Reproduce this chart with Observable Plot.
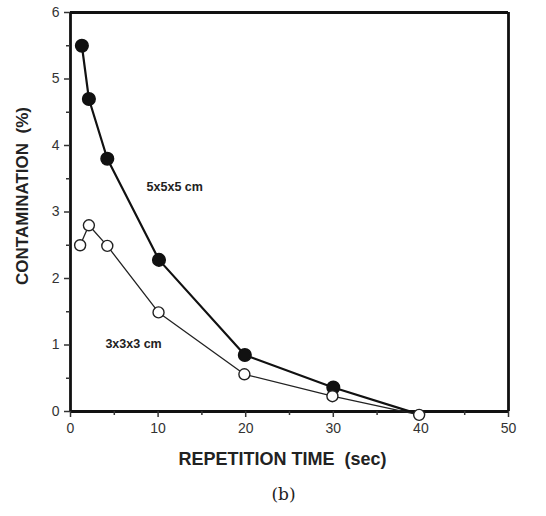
<!DOCTYPE html>
<html>
<head>
<meta charset="utf-8">
<script src="https://cdn.jsdelivr.net/npm/d3@7"></script>
<script src="https://cdn.jsdelivr.net/npm/@observablehq/plot@0.6"></script>
<style>
  body { margin: 0; }
</style>
</head>
<body>
<div id="chart"></div>
<script>
// Data
const time5 = [1.3, 2.1, 4.2, 10.1, 19.9, 30, 40];
const cont5 = [5.5, 4.7, 3.8, 2.28, 0.85, 0.36, -0.05];
const time3 = [1.1, 2.1, 4.2, 10.05, 19.85, 29.9, 39.8];
const cont3 = [2.5, 2.8, 2.49, 1.49, 0.56, 0.23, -0.05];

const xTicks = [0, 10, 20, 30, 40, 50];
const xMinor = [5, 15, 25, 35, 45];
const yTicks = [0, 1, 2, 3, 4, 5, 6];
const yMinor = [0.5, 1.5, 2.5, 3.5, 4.5, 5.5];
const xBounds = [0, 50];
const yBounds = [0, 6];

const labels = [
  {x: 11.9, y: 3.38, text: "5x5x5 cm"},
  {x: 7.2, y: 1.02, text: "3x3x3 cm"}
];
const xTitle = ["REPETITION TIME  (sec)"];
const yTitle = ["CONTAMINATION  (%)"];
const caption = ["(b)"];

const s5 = time5.map((t, i) => ({x: t, y: cont5[i]}));
const s3 = time3.map((t, i) => ({x: t, y: cont3[i]}));

const chart = Plot.plot({
  width: 546,
  height: 516,
  marginLeft: 70,
  marginRight: 38,
  marginTop: 12,
  marginBottom: 105,
  style: {fontFamily: "'Liberation Sans', Arial, sans-serif"},
  x: {domain: xBounds},
  y: {domain: yBounds},
  marks: [
    Plot.ruleX(xBounds, {stroke: "#111", strokeWidth: 2.8}),
    Plot.ruleY(yBounds, {stroke: "#111", strokeWidth: 2.8}),
    Plot.axisY({ticks: yTicks, tickFormat: d3.format("d"), tickSize: 6, tickPadding: 5, fontSize: 14, color: "#333", strokeWidth: 1.5, label: null}),
    Plot.axisY({ticks: yMinor, tickFormat: () => "", tickSize: 4, color: "#333", strokeWidth: 1.5, label: null}),
    Plot.axisX({ticks: xTicks, tickFormat: d3.format("d"), tickSize: 6, tickPadding: 6, fontSize: 14, color: "#333", strokeWidth: 1.5, label: null}),
    Plot.axisX({ticks: xMinor, tickFormat: () => "", tickSize: 4, color: "#333", strokeWidth: 1.5, label: null}),
    Plot.line(s5, {x: "x", y: "y", stroke: "#111", strokeWidth: 2.2}),
    Plot.line(s3, {x: "x", y: "y", stroke: "#222", strokeWidth: 1.3}),
    Plot.dot(s5.slice(0, 6), {x: "x", y: "y", r: 6.3, fill: "#111", stroke: "#111"}),
    Plot.dot(s3, {x: "x", y: "y", r: 5.5, fill: "white", stroke: "#222", strokeWidth: 1.4}),
    Plot.text(labels, {x: "x", y: "y", text: "text", fontSize: 12.5, fontWeight: "bold", fill: "#222"}),
    Plot.text(xTitle, {frameAnchor: "bottom", dy: 53, dx: -7, fontSize: 18, fontWeight: "bold", fill: "#222", text: d => d}),
    Plot.text(caption, {frameAnchor: "bottom", dy: 88, dx: -6, fontSize: 17, fontFamily: "'DejaVu Serif', 'Liberation Serif', serif", fill: "#222", text: d => d}),
    Plot.text(yTitle, {frameAnchor: "left", textAnchor: "middle", dx: -48, dy: -16, rotate: -90, fontSize: 17, fontWeight: "bold", fill: "#222", text: d => d})
  ]
});
document.getElementById("chart").append(chart);
</script>
</body>
</html>
